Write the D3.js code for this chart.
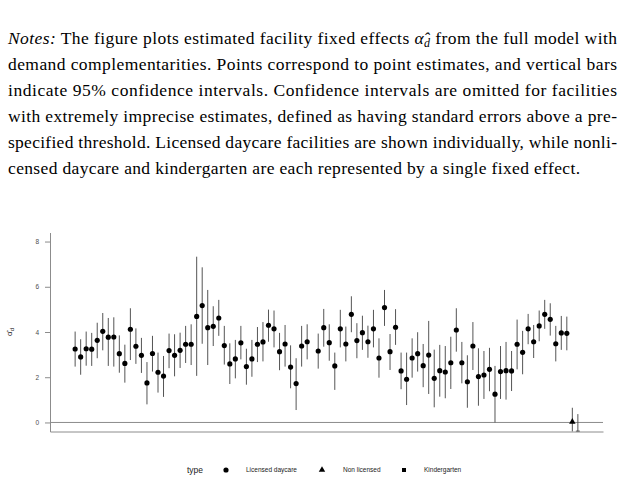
<!DOCTYPE html>
<html>
<head>
<meta charset="utf-8">
<script src="https://cdn.jsdelivr.net/npm/d3@7"></script>
<style>
  body { margin: 0; background: #fff; }
  svg { display: block; }
</style>
</head>
<body>
<div id="chart"></div>
<script>
// licensed daycare facilities, point estimates and 95% CI (null = not shown)
var licensedEst = [3.25,2.90,3.26,3.24,3.63,4.03,3.77,3.78,3.04,2.61,
  4.12,3.37,2.97,1.75,3.05,2.22,2.05,3.18,2.97,3.19,
  3.46,3.46,4.69,5.17,4.19,4.25,4.62,3.40,2.59,2.81,
  3.52,2.47,2.81,3.46,3.56,4.30,4.14,3.13,3.47,2.45,
  1.72,3.38,3.57,null,3.16,4.19,3.53,2.50,4.14,3.47,
  4.78,3.62,3.97,3.57,4.14,2.85,5.08,3.13,4.21,2.28,
  1.91,2.85,3.04,2.51,2.98,1.95,2.29,2.23,2.64,4.09,
  2.64,1.80,3.38,2.03,2.10,2.35,1.25,2.25,2.29,2.28,
  3.46,3.10,4.14,3.57,4.27,4.78,4.56,3.48,3.96,3.94];
var licensedLo = [2.47,2.11,2.51,2.50,2.84,3.19,2.50,2.47,2.20,1.76,
  2.76,2.59,2.19,0.80,2.25,1.32,1.13,2.40,2.04,2.41,
  2.63,2.54,2.06,3.48,2.54,3.38,3.83,2.56,1.70,1.95,
  2.79,1.67,2.02,2.67,2.70,3.57,3.32,2.31,2.47,1.51,
  0.55,2.47,2.79,null,2.38,3.35,2.73,1.44,3.32,2.70,
  3.99,2.84,3.21,2.86,3.32,1.98,4.27,2.32,3.43,1.47,
  0.77,1.98,2.25,1.56,1.26,0.67,1.14,1.07,1.48,3.13,
  1.73,0.65,2.32,0.74,1.04,1.38,0.00,1.04,1.01,1.39,
  2.35,2.13,3.46,2.85,3.59,4.14,3.84,2.70,3.21,3.19];
var licensedHi = [4.02,3.68,4.02,3.96,4.41,4.84,4.62,4.65,3.85,3.44,
  5.05,4.16,3.74,2.67,3.83,3.09,2.94,3.93,3.90,3.97,
  4.27,4.34,7.33,6.86,5.86,5.14,5.42,4.27,3.50,3.65,
  4.27,3.26,3.65,4.22,4.44,4.99,4.95,3.96,4.31,3.41,
  2.84,4.27,4.34,null,3.93,5.02,4.34,3.09,4.98,4.24,
  5.58,4.39,4.72,4.28,4.98,3.72,5.86,3.91,5.01,3.09,
  3.09,3.72,3.99,3.47,4.49,3.22,3.43,3.38,3.79,5.05,
  3.56,2.97,4.44,3.28,3.16,3.30,2.50,3.38,3.56,3.16,
  4.55,4.05,4.80,4.31,4.95,5.42,5.27,4.27,4.71,4.68];

// single fixed effects for the other two types
var otherTypes = ["Non licensed", "Kindergarten"];
var otherEst = [0.03, -0.45];
var otherLo = [-1.0, -1.3];
var otherHi = [0.65, 0.37];

var typeNames = ["Licensed daycare", "Non licensed", "Kindergarten"];
var yTicks = [0, 2, 4, 6, 8];

var noteLines = [
  "demand complementarities. Points correspond to point estimates, and vertical bars",
  "indicate 95% confidence intervals.  Confidence intervals are omitted for facilities",
  "with extremely imprecise estimates, defined as having standard errors above a pre-",
  "specified threshold. Licensed daycare facilities are shown individually, while nonli-",
  "censed daycare and kindergarten are each represented by a single fixed effect."
];

var rows = [];
licensedEst.forEach(function(v, i) {
  rows.push({ idx: i + 1, type: typeNames[0], est: v, lo: licensedLo[i], hi: licensedHi[i] });
});
otherTypes.forEach(function(t, i) {
  rows.push({ idx: licensedEst.length + i + 1, type: t, est: otherEst[i], lo: otherLo[i], hi: otherHi[i] });
});

var w = 627, h = 492;
var svg = d3.select("#chart").append("svg")
  .attr("width", w).attr("height", h);

// caption text
var serif = "'Liberation Serif', 'DejaVu Serif', serif";
var fs = 17.5;
var lineY = [43.5, 69.5, 95.5, 121.5, 147.5, 173.5];
var first = svg.append("text")
  .attr("x", 8).attr("y", lineY[0])
  .attr("font-family", serif).attr("font-size", fs)
  .attr("textLength", 609).attr("lengthAdjust", "spacing");
first.append("tspan").attr("font-style", "italic").text("Notes:");
first.append("tspan").text(" The figure plots estimated facility fixed effects ");
first.append("tspan").attr("font-style", "italic").text("\u03b1\u0302");
first.append("tspan").attr("font-style", "italic").attr("font-size", 12).attr("dy", 3).text("d");
first.append("tspan").attr("dy", -3).text(" from the full model with");

noteLines.forEach(function(t, i) {
  var last = i === noteLines.length - 1;
  svg.append("text")
    .attr("x", 8).attr("y", lineY[i + 1])
    .attr("font-family", serif).attr("font-size", fs)
    .attr("textLength", last ? 572 : 609).attr("lengthAdjust", "spacing")
    .text(t);
});

// plot panel
var pLeft = 50, pRight = 603, pTop = 232.5, pBottom = 431.5;
var n = rows.length;
var pad = (n - 1) * 0.05;
var x = d3.scaleLinear().domain([1 - pad, n + pad]).range([pLeft, pRight]);
var y = d3.scaleLinear().domain([-0.4, 8.4]).range([pBottom, pTop]);

svg.append("clipPath").attr("id", "panel")
  .append("rect").attr("x", pLeft).attr("y", pTop)
  .attr("width", pRight - pLeft).attr("height", pBottom - pTop);

var g = svg.append("g").attr("clip-path", "url(#panel)");

g.append("line")
  .attr("x1", pLeft).attr("x2", pRight)
  .attr("y1", y(0)).attr("y2", y(0))
  .attr("stroke", "#8c8c8c").attr("stroke-width", 1);

g.selectAll("line.ci")
  .data(rows.filter(function(d) { return d.lo != null; }))
  .enter().append("line")
  .attr("class", "ci")
  .attr("x1", function(d) { return x(d.idx); })
  .attr("x2", function(d) { return x(d.idx); })
  .attr("y1", function(d) { return y(d.lo); })
  .attr("y2", function(d) { return y(d.hi); })
  .attr("stroke", "#555").attr("stroke-width", 1);

var shape = d3.scaleOrdinal()
  .domain(typeNames)
  .range([d3.symbolCircle, d3.symbolTriangle, d3.symbolSquare]);
var symSize = { "Licensed daycare": 21, "Non licensed": 18, "Kindergarten": 16 };

g.selectAll("path.pt")
  .data(rows.filter(function(d) { return d.est != null; }))
  .enter().append("path")
  .attr("class", "pt")
  .attr("transform", function(d) { return "translate(" + x(d.idx) + "," + y(d.est) + ")"; })
  .attr("d", function(d) { return d3.symbol().type(shape(d.type)).size(symSize[d.type])(); })
  .attr("fill", "#000");

// axes
var sans = "'Liberation Sans', Arial, sans-serif";
var yAxis = svg.append("g")
  .attr("transform", "translate(" + pLeft + ",0)")
  .call(d3.axisLeft(y).tickValues(yTicks).tickSize(5).tickSizeOuter(0).tickPadding(6));
yAxis.select(".domain").attr("stroke", "#8c8c8c");
yAxis.selectAll(".tick line").attr("stroke", "#8c8c8c");
yAxis.selectAll(".tick text")
  .attr("font-family", sans)
  .attr("font-size", 6.5).attr("fill", "#4d4d4d");

var xAxis = svg.append("g")
  .attr("transform", "translate(0," + pBottom + ")")
  .call(d3.axisBottom(x).tickValues([]).tickSizeOuter(0));
xAxis.select(".domain").attr("stroke", "#8c8c8c");

var ylab = svg.append("text")
  .attr("transform", "translate(12," + ((pTop + pBottom) / 2) + ") rotate(-90)")
  .attr("text-anchor", "middle")
  .attr("font-family", sans)
  .attr("font-size", 8).attr("fill", "#222");
ylab.append("tspan").text("\u03b1\u0302");
ylab.append("tspan").attr("font-size", 6).attr("dy", 2).text("d");

// legend
var ly = 470;
svg.append("text").attr("x", 187).attr("y", ly + 3)
  .attr("font-family", sans).attr("font-size", 8.5).attr("fill", "#222").text("type");
var legX = [226, 322, 404];
var legLabX = [246, 343, 424];
typeNames.forEach(function(t, i) {
  svg.append("path")
    .attr("transform", "translate(" + legX[i] + "," + ly + ")")
    .attr("d", d3.symbol().type(shape(t)).size(symSize[t])())
    .attr("fill", "#000");
  svg.append("text").attr("x", legLabX[i]).attr("y", ly + 2.3)
    .attr("font-family", sans).attr("font-size", 6.5).attr("fill", "#222").text(t);
});
</script>
</body>
</html>
